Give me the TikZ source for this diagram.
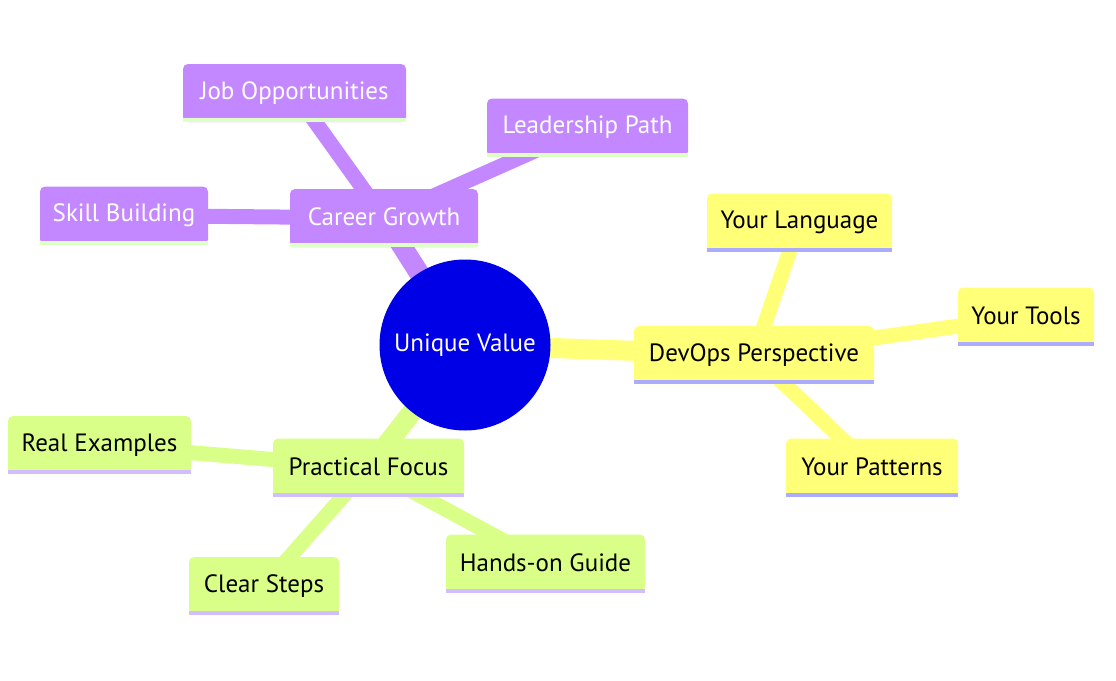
\documentclass[tikz,border=0pt]{standalone}
\usepackage{fontspec}
\setmainfont{PT Sans}
\usetikzlibrary{backgrounds}
\definecolor{purp}{HTML}{C387FF}
\definecolor{yel}{HTML}{FFFF78}
\definecolor{grn}{HTML}{DAFF88}
\definecolor{rootblue}{HTML}{0000E6}
\definecolor{stpurp}{HTML}{DFFFC8}
\definecolor{styel}{HTML}{ABABFF}
\definecolor{stgrn}{HTML}{D2BDFF}
\tikzset{
  box/.style={rounded corners=5pt, minimum height=58, inner sep=0pt, font=\fontsize{25}{30}\selectfont},
  pbox/.style={box, fill=purp, text=white},
  ybox/.style={box, fill=yel, text=black},
  gbox/.style={box, fill=grn, text=black},
  rootedge/.style={line width=20},
  subedge/.style={line width=15},
}
\newcommand\mmnode[6]{%
  \node[#4, minimum width=#3] (#1) at (#2) {\raisebox{2pt}{#6}};
  \fill[#5] ([yshift=4]#1.south west) rectangle (#1.south east);
}
\begin{document}
\begin{tikzpicture}[x=1pt,y=-1pt]
\useasboundingbox (0,0) rectangle (1116,680);
\node[circle, fill=rootblue, minimum size=171, inner sep=0pt, text=white, font=\fontsize{25}{30}\selectfont] (root) at (465,345) {Unique Value};

\mmnode{career}{384,218}{188}{pbox}{stpurp}{Career Growth}
\mmnode{job}{294.5,93}{223}{pbox}{stpurp}{Job Opportunities}
\mmnode{lead}{587.5,127.5}{201}{pbox}{stpurp}{Leadership Path}
\mmnode{skill}{124,215.5}{168}{pbox}{stpurp}{Skill Building}

\mmnode{devops}{754,355}{240}{ybox}{styel}{DevOps Perspective}
\mmnode{lang}{799.5,222.5}{185}{ybox}{styel}{Your Language}
\mmnode{tools}{1026,316.5}{136}{ybox}{styel}{Your Tools}
\mmnode{patt}{872,467.5}{172}{ybox}{styel}{Your Patterns}

\mmnode{prac}{368.5,467.5}{191}{gbox}{stgrn}{Practical Focus}
\mmnode{real}{99.5,445}{183}{gbox}{stgrn}{Real Examples}
\mmnode{clear}{264,586}{150}{gbox}{stgrn}{Clear Steps}
\mmnode{hands}{545.5,563.5}{199}{gbox}{stgrn}{Hands-on Guide}

\begin{scope}[on background layer]
\draw[rootedge, purp] (root.center) -- (career.center);
\draw[subedge, purp] (career.center) -- (job.center);
\draw[subedge, purp] (career.center) -- (lead.center);
\draw[subedge, purp] (career.center) -- (skill.center);
\draw[rootedge, yel] (root.center) -- (devops.center);
\draw[subedge, yel] (devops.center) -- (lang.center);
\draw[subedge, yel] (devops.center) -- (tools.center);
\draw[subedge, yel] (devops.center) -- (patt.center);
\draw[rootedge, grn] (root.center) -- (prac.center);
\draw[subedge, grn] (prac.center) -- (real.center);
\draw[subedge, grn] (prac.center) -- (clear.center);
\draw[subedge, grn] (prac.center) -- (hands.center);
\end{scope}
\end{tikzpicture}
\end{document}
